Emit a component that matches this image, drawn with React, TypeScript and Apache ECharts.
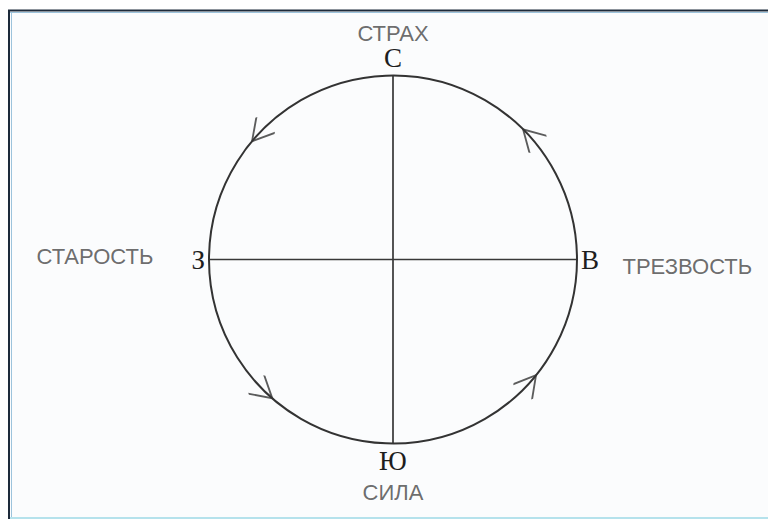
import React, { useEffect, useRef } from "react";
import * as echarts from "echarts";

// Compass letters on the angle axis (value in degrees, counter-clockwise from east)
const directionAngles = [0, 90, 180, 270];
const directionLetters = ["В", "С", "З", "Ю"];

// Outer words: [radius (1 = circle), angle in degrees]
const outerWords = ["ТРЕЗВОСТЬ", "СТРАХ", "СТАРОСТЬ", "СИЛА"];
const outerRadius = [1.6, 1.23, 1.62, 1.265];
const outerAngle = [-1.3, 90, 179.5, 270];

// Arrow positions on the circle (degrees), all pointing counter-clockwise
const arrowAngles = [45, 140, 229, 321];

const ARROW_PATH = "path://M0,0 L12,21 L24,0 M12,42 L12,42";

export default function App() {
  const ref = useRef<HTMLDivElement>(null);
  useEffect(() => {
    if (!ref.current) return;
    const chart = echarts.init(ref.current, null, { renderer: "svg" });
    const letterMap: Record<number, string> = {};
    directionAngles.forEach((a, i) => (letterMap[a] = directionLetters[i]));
    chart.setOption({
      animation: false,
      backgroundColor: "#ffffff",
      polar: { center: [393, 259.5], radius: 184 },
      angleAxis: {
        type: "value",
        min: 0,
        max: 360,
        interval: 90,
        startAngle: 0,
        clockwise: false,
        axisLine: { show: true, lineStyle: { color: "#333333", width: 2 } },
        axisTick: { show: false },
        splitLine: { show: true, lineStyle: { color: "#383838", width: 1.7 } },
        axisLabel: {
          show: true,
          margin: 4,
          fontFamily: "Liberation Serif",
          fontSize: 27,
          color: "#1e1e1e",
          formatter: (v: number) => (v === 360 ? "" : letterMap[v] ?? ""),
        },
      },
      radiusAxis: { type: "value", min: 0, max: 1, show: false },
      series: [
        {
          type: "scatter",
          coordinateSystem: "polar",
          clip: false,
          symbol: ARROW_PATH,
          symbolSize: [24, 42],
          itemStyle: { color: "transparent", borderColor: "#333333", borderWidth: 2 },
          data: arrowAngles.map((a) => ({ value: [1, a], symbolRotate: a + 180 })),
          silent: true,
        },
        {
          type: "scatter",
          coordinateSystem: "polar",
          clip: false,
          symbolSize: 0,
          silent: true,
          label: {
            show: true,
            position: "inside",
            fontFamily: "Liberation Sans",
            fontSize: 22,
            color: "#474747",
            formatter: (p: any) => p.name,
          },
          data: outerWords.map((w, i) => ({ name: w, value: [outerRadius[i], outerAngle[i]] })),
        },
      ],
      graphic: [
        { type: "rect", shape: { x: 0, y: 0, width: 768, height: 521 }, style: { fill: "#ffffff" }, z: -10 },
        { type: "rect", shape: { x: 10, y: 12, width: 760, height: 505 }, style: { fill: "#fbfcfd" }, z: -9 },
        { type: "line", shape: { x1: 8, y1: 10.5, x2: 768, y2: 10.5 }, style: { stroke: "#1d2a3a", lineWidth: 2 } },
        { type: "line", shape: { x1: 9, y1: 10, x2: 9, y2: 519 }, style: { stroke: "#1d2a3a", lineWidth: 2 } },
        { type: "line", shape: { x1: 10, y1: 12.5, x2: 768, y2: 12.5 }, style: { stroke: "#9cc3dc", lineWidth: 1 } },
        { type: "line", shape: { x1: 11.5, y1: 12, x2: 11.5, y2: 517 }, style: { stroke: "#9cc3dc", lineWidth: 1 } },
        { type: "line", shape: { x1: 10, y1: 518, x2: 768, y2: 518 }, style: { stroke: "#b5e2ec", lineWidth: 2 } },
      ],
    });
    return () => chart.dispose();
  }, []);
  return (
    <div
      ref={ref}
      style={{ position: "absolute", left: 0, top: 0, width: 768, height: 521 }}
    />
  );
}
